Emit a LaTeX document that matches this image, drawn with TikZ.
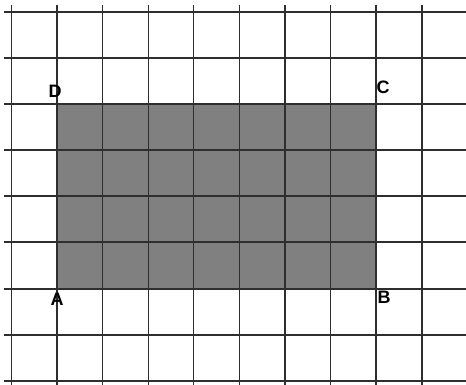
\documentclass[tikz,border=0pt]{standalone}
\usepackage{fontspec}
\setmainfont{Liberation Sans}
\begin{document}
\begin{tikzpicture}[x=1pt,y=-1pt,
  gridline/.style={line width=1.5pt,color=black!82},
  shade/.style={fill=black!50,draw=none},
  ptlabel/.style={font=\bfseries\fontsize{18}{18}\selectfont,inner sep=0pt}]
\useasboundingbox (0,0) rectangle (466,385);
\fill[white] (0,0) rectangle (466,385);
\fill[shade] (57,104) rectangle (376,289);
\foreach \x in {11.5,57,102.7,148.3,193.5,239.3,285,330.7,376,422}
  \draw[gridline] (\x,5) -- (\x,385);
\foreach \y in {12,58,104,150,196,242,289,335,381}
  \draw[gridline] (4,\y) -- (466,\y);
\node[ptlabel] (D) at (55,91) {D};
\node[ptlabel] (C) at (383,87) {C};
\node[ptlabel] (A) at (57,299) {A};
\node[ptlabel] (B) at (384,297) {B};
\end{tikzpicture}
\end{document}
